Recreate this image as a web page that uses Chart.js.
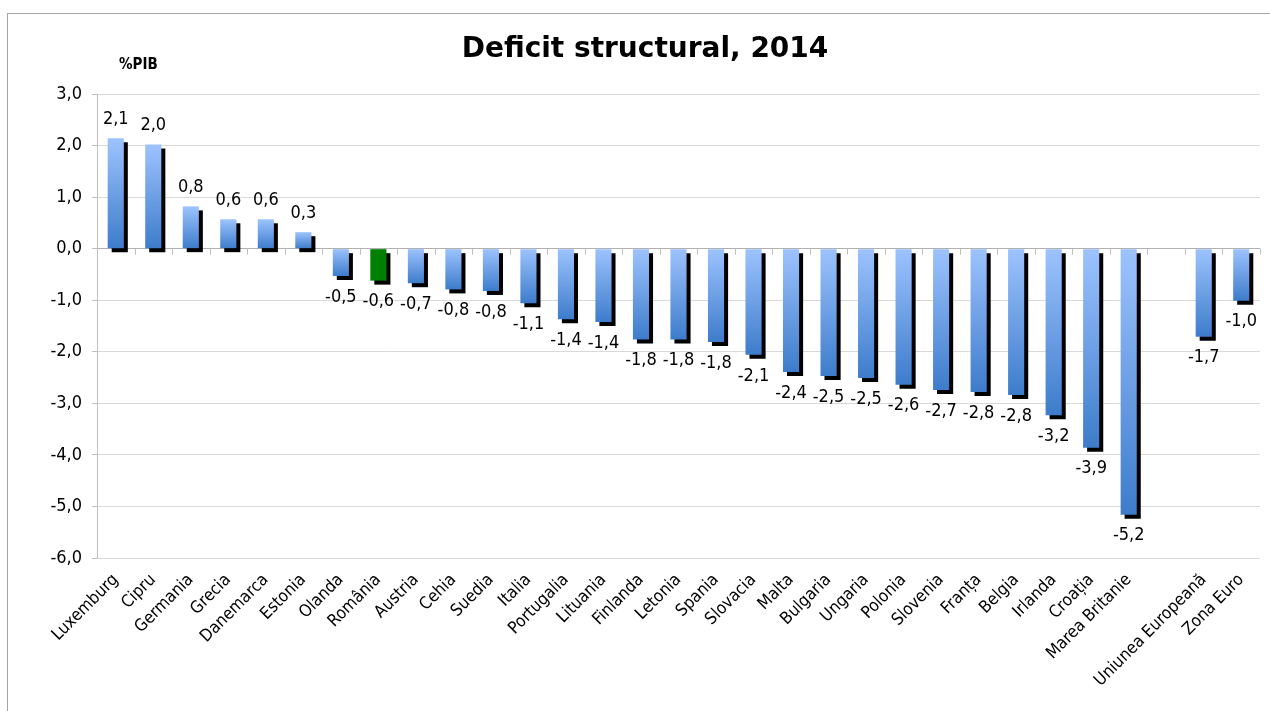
<!DOCTYPE html>
<html lang="ro">
<head>
<meta charset="UTF-8">
<title>Deficit structural, 2014</title>
<script src="https://cdn.jsdelivr.net/npm/chart.js"></script>
<style>
  body { margin: 0; overflow: hidden; background: #fff; }
  #frame { position: absolute; left: 7px; top: 13px; width: 1300px; height: 740px; border: 1px solid #a6a6a6; pointer-events: none; }
  canvas { position: absolute; left: 0; top: 0; }
</style>
</head>
<body>
<canvas id="deficitChart" width="1270" height="711"></canvas>
<div id="frame"></div>
<script>
// categories (empty one is the gap before the EU aggregates)
const countries = ['Luxemburg', 'Cipru', 'Germania', 'Grecia', 'Danemarca', 'Estonia', 'Olanda', 'România',
  'Austria', 'Cehia', 'Suedia', 'Italia', 'Portugalia', 'Lituania', 'Finlanda', 'Letonia', 'Spania',
  'Slovacia', 'Malta', 'Bulgaria', 'Ungaria', 'Polonia', 'Slovenia', 'Franța', 'Belgia', 'Irlanda',
  'Croația', 'Marea Britanie', '', 'Uniunea Europeană', 'Zona Euro'];
// structural balance, % of GDP
const deficit = [2.14, 2.02, 0.82, 0.57, 0.57, 0.32, -0.53, -0.62,
  -0.67, -0.79, -0.82, -1.06, -1.37, -1.42, -1.76, -1.76, -1.81,
  -2.06, -2.39, -2.47, -2.51, -2.64, -2.74, -2.78, -2.84, -3.23,
  -3.86, -5.16, null, -1.71, -1.01];
const yTicks = [-6, -5, -4, -3, -2, -1, 0, 1, 2, 3];
const highlight = 'România';

const fontFam = "'DejaVu Sans Condensed', 'DejaVu Sans', sans-serif";
const fmt = v => v.toFixed(1).replace('.', ',');

function barFill(ctx) {
  const chart = ctx.chart;
  if (countries[ctx.dataIndex] === highlight) return '#008000';
  const v = ctx.raw;
  const ys = chart.scales.y;
  if (v == null || !ys) return '#6b9de6';
  const top = ys.getPixelForValue(Math.max(v, 0));
  const bot = ys.getPixelForValue(Math.min(v, 0));
  if (!isFinite(top) || !isFinite(bot)) return '#6b9de6';
  const g = chart.ctx.createLinearGradient(0, top, 0, bot);
  g.addColorStop(0, '#9DC3FE');
  g.addColorStop(1, '#3D7CCB');
  return g;
}

const shadowPlugin = {
  id: 'barShadow',
  beforeDatasetsDraw(chart) {
    const c = chart.ctx;
    c.save();
    c.shadowColor = '#000';
    c.shadowOffsetX = 4;
    c.shadowOffsetY = 4;
    c.shadowBlur = 0;
  },
  afterDatasetsDraw(chart) {
    chart.ctx.restore();
  }
};

const decorPlugin = {
  id: 'decor',
  afterDraw(chart) {
    const c = chart.ctx;
    const xs = chart.scales.x, ys = chart.scales.y;
    const y0 = ys.getPixelForValue(0);
    // small tick marks on the zero line, between categories
    const w = (xs.right - xs.left) / countries.length;
    c.save();
    c.strokeStyle = '#bfbfbf';
    c.lineWidth = 1;
    for (let k = 0; k <= countries.length; k++) {
      const px = Math.round(xs.left + k * w) + 0.5;
      c.beginPath();
      c.moveTo(px, y0);
      c.lineTo(px, y0 + 6);
      c.stroke();
    }
    // value labels
    c.fillStyle = '#000';
    c.font = '18px ' + fontFam;
    c.textAlign = 'center';
    c.textBaseline = 'middle';
    chart.getDatasetMeta(0).data.forEach((bar, i) => {
      const v = deficit[i];
      if (v == null) return;
      const y = v >= 0 ? bar.y - 19 : bar.y + 21;
      c.fillText(fmt(v), bar.x, y);
    });
    // title and unit
    c.font = "bold 28px 'DejaVu Sans', sans-serif";
    c.fillText('Deficit structural, 2014', 645, 50);
    c.font = 'bold 15px ' + fontFam;
    c.textAlign = 'left';
    c.fillText('%PIB', 119, 65);
    c.restore();
  }
};

const chart = new Chart(document.getElementById('deficitChart'), {
  type: 'bar',
  data: {
    labels: countries,
    datasets: [{
      data: deficit,
      backgroundColor: barFill,
      borderWidth: 0,
      categoryPercentage: 1,
      barPercentage: 0.43
    }]
  },
  options: {
    responsive: false,
    animation: false,
    layout: { padding: { top: 94, right: 10, left: 0, bottom: 0 } },
    plugins: {
      legend: { display: false },
      tooltip: { enabled: false }
    },
    scales: {
      x: {
        grid: { display: false },
        border: { display: false },
        ticks: {
          autoSkip: false,
          maxRotation: 45,
          minRotation: 45,
          padding: 4,
          color: '#000',
          font: { family: fontFam, size: 17 }
        },
        afterFit(scale) { scale.height = 153; }
      },
      y: {
        min: -6,
        max: 3,
        afterBuildTicks(scale) { scale.ticks = yTicks.map(v => ({ value: v })); },
        ticks: {
          padding: 10,
          color: '#000',
          font: { family: fontFam, size: 18 },
          callback: v => fmt(v)
        },
        grid: {
          color: c => c.tick && c.tick.value === 0 ? '#b0b0b0' : '#d9d9d9',
          tickColor: '#bfbfbf',
          tickLength: 5
        },
        border: { color: '#bfbfbf' },
        afterFit(scale) { scale.width = 97; }
      }
    }
  },
  plugins: [shadowPlugin, decorPlugin]
});
// re-run once so the gradients are built with the final scale geometry
chart.update();
</script>
</body>
</html>
